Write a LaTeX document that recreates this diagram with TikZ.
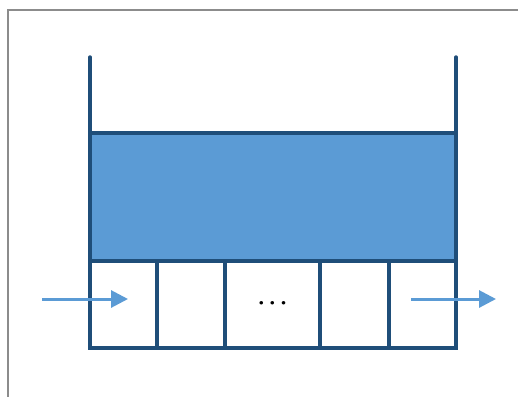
\documentclass[tikz,border=0pt]{standalone}
\usetikzlibrary{arrows.meta}
\definecolor{darkline}{HTML}{1F4E79}
\definecolor{fillblue}{HTML}{5B9BD5}
\definecolor{framegray}{HTML}{8C8C8C}
\begin{document}
\begin{tikzpicture}[x=1pt,y=-1pt,
  wall/.style={draw=darkline,line width=3.4pt,line cap=round},
  cellbox/.style={draw=darkline,line width=3.4pt,minimum height=87pt,inner sep=0pt,outer sep=0pt,anchor=north west,fill=white},
  flowarrow/.style={draw=fillblue,line width=3pt,-{Triangle[length=17pt,width=17pt]}}]
\useasboundingbox (0,0) rectangle (518,397);
\fill[white] (0,0) rectangle (518,397);
\draw[framegray,line width=1.2pt] (518,10) -- (8,10) -- (8,397);
% tank fill
\node[draw=darkline,line width=3.4pt,fill=fillblue,minimum width=366pt,minimum height=128pt,anchor=north west,inner sep=0pt,outer sep=0pt] (liquid) at (90,133) {};
% cells
\node[cellbox,minimum width=67pt] (c1) at (90,261) {};
\node[cellbox,minimum width=68pt] (c2) at (157,261) {};
\node[cellbox,minimum width=95pt] (c3) at (225,261) {\fontsize{16}{16}\selectfont\textbullet\kern-0.5pt\textbullet\kern-0.5pt\textbullet};
\node[cellbox,minimum width=69pt] (c4) at (320,261) {};
\node[cellbox,minimum width=67pt] (c5) at (389,261) {};
% walls
\draw[wall] (c1.south west) -- (90,57);
\draw[wall] (c5.south east) -- (456,57);
% arrows
\coordinate (inStart) at (42,299);
\coordinate (inEnd) at (128,299);
\coordinate (outStart) at (411,299);
\coordinate (outEnd) at (496,299);
\draw[flowarrow] (inStart) -- (inEnd);
\draw[flowarrow] (outStart) -- (outEnd);
\end{tikzpicture}
\end{document}
